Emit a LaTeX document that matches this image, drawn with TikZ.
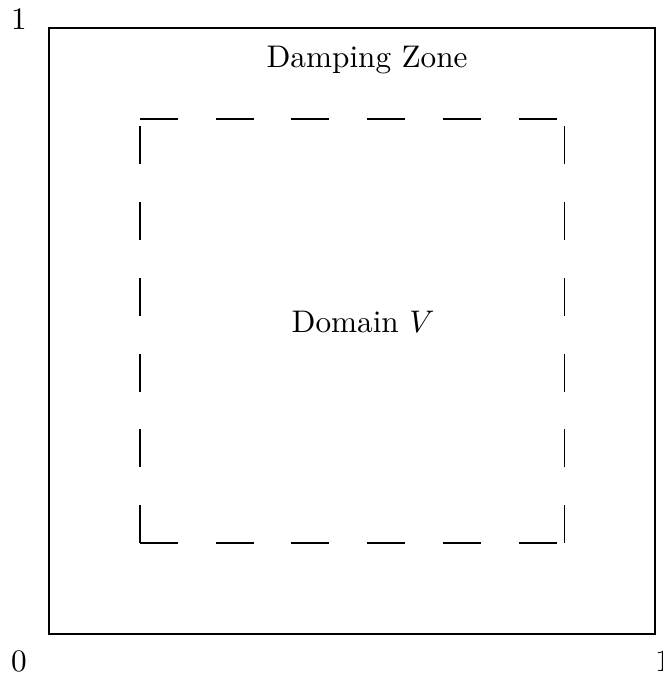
\documentclass[tikz,border=0pt]{standalone}
\begin{document}
\begin{tikzpicture}[x=193.92pt,y=193.92pt,
  frame/.style={draw, line width=0.4pt},
  inner/.style={draw, line width=0.4pt, dash pattern=on 12.12pt off 12.12pt},
  lbl/.style={inner sep=0pt, anchor=base west}]
  \useasboundingbox (-0.0809,-0.0726) rectangle (1.0116,1.0462);

  % outer unit square
  \coordinate (o00) at (0,0);
  \coordinate (o11) at (1,1);
  \draw[frame] (o00) rectangle (o11);

  % inner domain boundary, each side drawn from its lower/left end
  \coordinate (i00) at (0.15,0.15);
  \coordinate (i10) at (0.85,0.15);
  \coordinate (i01) at (0.15,0.85);
  \coordinate (i11) at (0.85,0.85);
  \draw[inner] (i00) -- (i01);
  \draw[inner] (i10) -- (i11);
  \draw[inner] (i00) -- (i10);
  \draw[inner] (i01) -- (i11);

  % axis marks
  \node[inner sep=0pt, anchor=base] (ytop) at (-0.0495,0.9967) {1};
  \node[inner sep=0pt, anchor=base] (zero) at (-0.0495,-0.0627) {0};
  \node[inner sep=0pt, anchor=base] (xone) at (1.0132,-0.0627) {1};

  % region labels
  \node[lbl] (damp) at (0.358,0.9356) {Damping Zone};
  \node[lbl] (dom) at (0.3993,0.4967) {Domain $V$};
\end{tikzpicture}
\end{document}
